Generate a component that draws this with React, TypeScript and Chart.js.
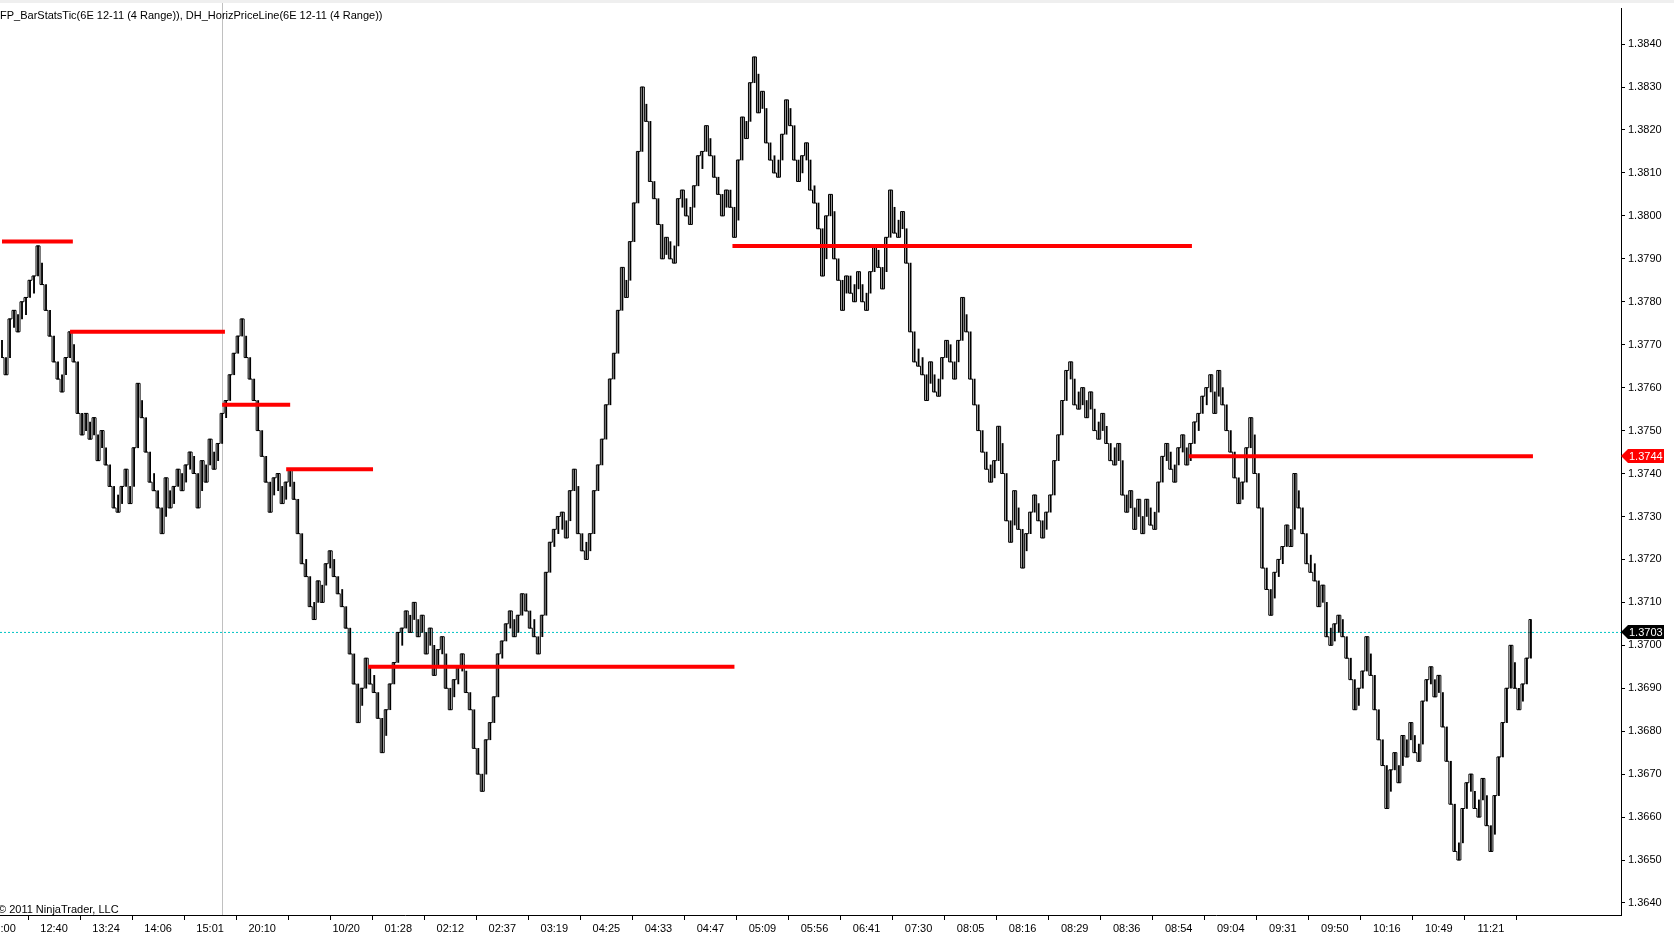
import { useEffect, useRef } from 'react'
import { Chart, registerables } from 'chart.js'

Chart.register(...registerables)

// 6E 12-11, 4 Range bars (tick 0.0001) -> every bar spans 4 ticks
const RANGE = 0.0004

// bar lows, one per bar
const lows = [
  1.3767, 1.3763, 1.3772, 1.3774, 1.3773, 1.3776, 1.3777, 1.3781, 1.3782, 1.3789, 1.3784, 1.3778, 1.3772,
  1.3766, 1.3762, 1.3759, 1.3763, 1.3769, 1.3766, 1.3754, 1.3749, 1.3750, 1.3748, 1.3749, 1.3743, 1.3746,
  1.3742, 1.3737, 1.3732, 1.3731, 1.3733, 1.3737, 1.3733, 1.3742, 1.3757, 1.3753, 1.3745, 1.3738, 1.3736,
  1.3732, 1.3726, 1.3735, 1.3732, 1.3733, 1.3737, 1.3736, 1.3738, 1.3741, 1.3740, 1.3732, 1.3739, 1.3738,
  1.3744, 1.3741, 1.3743, 1.3750, 1.3753, 1.3759, 1.3764, 1.3768, 1.3772, 1.3767, 1.3762, 1.3757, 1.3750,
  1.3744, 1.3738, 1.3731, 1.3735, 1.3736, 1.3733, 1.3734, 1.3737, 1.3734, 1.3726, 1.3719, 1.3716, 1.3709,
  1.3706, 1.3711, 1.3710, 1.3715, 1.3718, 1.3716, 1.3712, 1.3709, 1.3704, 1.3698, 1.3691, 1.3682, 1.3686,
  1.3693, 1.3691, 1.3689, 1.3683, 1.3675, 1.3681, 1.3687, 1.3692, 1.3699, 1.3700, 1.3704, 1.3703, 1.3706,
  1.3702, 1.3703, 1.3698, 1.3700, 1.3693, 1.3695, 1.3698, 1.3690, 1.3685, 1.3688, 1.3691, 1.3694, 1.3689,
  1.3685, 1.3676, 1.3670, 1.3666, 1.3674, 1.3678, 1.3684, 1.3694, 1.3697, 1.3701, 1.3704, 1.3702, 1.3703,
  1.3708, 1.3708, 1.3704, 1.3702, 1.3698, 1.3703, 1.3713, 1.3720, 1.3723, 1.3726, 1.3727, 1.3725, 1.3732,
  1.3737, 1.3726, 1.3722, 1.3720, 1.3722, 1.3732, 1.3738, 1.3744, 1.3752, 1.3758, 1.3764, 1.3774, 1.3784,
  1.3781, 1.3790, 1.3799, 1.3811, 1.3826, 1.3822, 1.3808, 1.3804, 1.3798, 1.3790, 1.3791, 1.3790, 1.3789,
  1.3800, 1.3802, 1.3800, 1.3798, 1.3803, 1.3810, 1.3811, 1.3817, 1.3814, 1.3809, 1.3805, 1.3800, 1.3802,
  1.3802, 1.3795, 1.3809, 1.3819, 1.3818, 1.3827, 1.3833, 1.3824, 1.3825, 1.3817, 1.3813, 1.3810, 1.3809,
  1.3815, 1.3823, 1.3821, 1.3813, 1.3808, 1.3810, 1.3813, 1.3806, 1.3803, 1.3797, 1.3786, 1.3796, 1.3801,
  1.3790, 1.3785, 1.3778, 1.3782, 1.3782, 1.3780, 1.3783, 1.3780, 1.3778, 1.3783, 1.3789, 1.3788, 1.3783,
  1.3791, 1.3802, 1.3796, 1.3795, 1.3797, 1.3789, 1.3773, 1.3766, 1.3765, 1.3763, 1.3757, 1.3762, 1.3759,
  1.3758, 1.3763, 1.3767, 1.3766, 1.3762, 1.3767, 1.3777, 1.3773, 1.3762, 1.3756, 1.3750, 1.3745, 1.3741,
  1.3738, 1.3739, 1.3747, 1.3740, 1.3729, 1.3724, 1.3732, 1.3727, 1.3718, 1.3722, 1.3727, 1.3731, 1.3729,
  1.3725, 1.3727, 1.3731, 1.3739, 1.3745, 1.3753, 1.3760, 1.3762, 1.3756, 1.3755, 1.3756, 1.3753, 1.3755,
  1.3750, 1.3748, 1.3750, 1.3747, 1.3743, 1.3742, 1.3743, 1.3735, 1.3731, 1.3732, 1.3727, 1.3730, 1.3726,
  1.3730, 1.3728, 1.3727, 1.3734, 1.3740, 1.3743, 1.3741, 1.3738, 1.3742, 1.3745, 1.3742, 1.3743, 1.3748,
  1.3750, 1.3754, 1.3756, 1.3759, 1.3754, 1.3760, 1.3756, 1.3750, 1.3745, 1.3739, 1.3733, 1.3734, 1.3742,
  1.3749, 1.3740, 1.3732, 1.3718, 1.3713, 1.3707, 1.3713, 1.3716, 1.3719, 1.3724, 1.3723, 1.3736, 1.3732,
  1.3726, 1.3719, 1.3717, 1.3715, 1.3709, 1.3710, 1.3702, 1.3700, 1.3701, 1.3703, 1.3702, 1.3697, 1.3692,
  1.3685, 1.3686, 1.3690, 1.3698, 1.3693, 1.3685, 1.3678, 1.3672, 1.3662, 1.3667, 1.3671, 1.3668, 1.3675,
  1.3674, 1.3678, 1.3675, 1.3673, 1.3683, 1.3688, 1.3691, 1.3688, 1.3689, 1.3681, 1.3673, 1.3663, 1.3652,
  1.3650, 1.3658, 1.3664, 1.3666, 1.3662, 1.3660, 1.3665, 1.3658, 1.3652, 1.3661, 1.3670, 1.3678, 1.3686,
  1.3696, 1.3690, 1.3685, 1.3687, 1.3693, 1.3702,
]

// time axis: bar slot of each tick, and its label
const tickBars = [0, 13, 26, 39, 52, 65, 78, 86, 99, 112, 125, 138, 151, 164, 177, 190, 203, 216, 229, 242, 255, 268, 281, 294, 307, 320, 333, 346, 359, 372]
const tickLabels = ['12:00', '12:40', '13:24', '14:06', '15:01', '20:10', '', '10/20', '01:28', '02:12', '02:37', '03:19', '04:25', '04:33', '04:47', '05:09', '05:56', '06:41', '07:30', '08:05', '08:16', '08:29', '08:36', '08:54', '09:04', '09:31', '09:50', '10:16', '10:49', '11:21']

const priceTicks = [1.3640, 1.3650, 1.3660, 1.3670, 1.3680, 1.3690, 1.3700, 1.3710, 1.3720, 1.3730, 1.3740, 1.3750, 1.3760, 1.3770, 1.3780, 1.3790, 1.3800, 1.3810, 1.3820, 1.3830, 1.3840]

// DH_HorizPriceLine levels: price, first bar, last bar
const levelPrices = [1.3794, 1.3773, 1.3756, 1.3741, 1.3695, 1.3793, 1.3744]
const levelFrom = [0, 17, 55, 71, 91.5, 182.5, 296.5]
const levelTo = [17.7, 55.7, 72, 92.7, 183, 297.3, 382.5]

const lastPrice = 1.3703
const lastLevel = 1.3744
const sessionBreakBar = 55
const slots = 405

const FONT = '"Liberation Sans", Arial, sans-serif'

const overlays = {
  id: 'ntOverlays',
  beforeDatasetsDraw(chart: any) {
    const { ctx, chartArea, scales } = chart
    const x = Math.round(scales.x.getPixelForValue(sessionBreakBar)) + 0.5
    ctx.save()
    ctx.strokeStyle = '#c0c0c0'
    ctx.lineWidth = 1
    ctx.beginPath()
    ctx.moveTo(x, 3)
    ctx.lineTo(x, chartArea.bottom)
    ctx.stroke()
    ctx.restore()
  },
  afterDraw(chart: any) {
    const { ctx, chartArea, scales } = chart
    const marker = (price: number, bg: string) => {
      const y = Math.round(scales.y.getPixelForValue(price))
      const x0 = chartArea.right
      ctx.save()
      ctx.fillStyle = bg
      ctx.beginPath()
      ctx.moveTo(x0, y)
      ctx.lineTo(x0 + 7, y - 7)
      ctx.lineTo(x0 + 43, y - 7)
      ctx.lineTo(x0 + 43, y + 7)
      ctx.lineTo(x0 + 7, y + 7)
      ctx.closePath()
      ctx.fill()
      ctx.fillStyle = '#fff'
      ctx.font = '11px ' + FONT
      ctx.textBaseline = 'middle'
      ctx.fillText(price.toFixed(4), x0 + 8, y + 1)
      ctx.restore()
    }
    marker(lastLevel, '#ff0000')
    marker(lastPrice, '#000000')
  },
}

export default function App() {
  const ref = useRef<HTMLCanvasElement>(null)

  useEffect(() => {
    document.body.style.margin = '0'
    if (!ref.current) return

    // high/low of each bar, stretched to touch the previous bar so the path stays connected
    const bars = lows.map((lo, i) => {
      let a = lo
      let b = lo + RANGE
      if (i > 0) {
        const prev = lows[i - 1]
        if (prev + RANGE < a) a = prev + RANGE
        if (prev > b) b = prev
      }
      return { x: i, y: [a, b] }
    })
    // close sits on the high of an up bar, on the low of a down bar
    const closes = lows.map((lo, i) => ({ x: i, y: i > 0 && lo > lows[i - 1] ? lo + RANGE : lo }))

    const levels = levelPrices.map((p, k) => ({
      type: 'line' as const,
      data: [{ x: levelFrom[k], y: p }, { x: levelTo[k], y: p }],
      borderColor: '#ff0000',
      borderWidth: 4,
      borderCapStyle: 'butt' as const,
      pointRadius: 0,
      order: 0,
    }))

    const chart = new Chart(ref.current, {
      type: 'bar',
      data: {
        datasets: [
          ...levels,
          {
            type: 'bar',
            data: bars as any,
            backgroundColor: '#000',
            barThickness: 1.2,
            order: 1,
          },
          {
            type: 'line',
            data: closes,
            borderColor: '#000',
            borderWidth: 1,
            stepped: 'middle',
            pointRadius: 0,
            order: 1,
          },
          {
            type: 'line',
            data: [{ x: -0.5, y: lastPrice }, { x: slots - 0.5, y: lastPrice }],
            borderColor: '#00c4c4',
            borderWidth: 1,
            borderDash: [2, 2],
            pointRadius: 0,
            order: 2,
          },
        ] as any,
      },
      options: {
        responsive: false,
        animation: false,
        layout: { padding: { top: 8, left: 0, right: 0, bottom: 0 } },
        plugins: { legend: { display: false }, tooltip: { enabled: false }, title: { display: false } },
        scales: {
          x: {
            type: 'linear',
            min: -0.5,
            max: slots - 0.5,
            offset: false,
            afterBuildTicks: (s: any) => { s.ticks = tickBars.map(v => ({ value: v })) },
            afterFit: (s: any) => { s.height = 26; s.paddingLeft = 0; s.paddingRight = 0 },
            ticks: {
              autoSkip: false,
              maxRotation: 0,
              minRotation: 0,
              padding: 2,
              color: '#000',
              font: { family: FONT, size: 11 },
              callback: (_v: any, i: number) => tickLabels[i],
            },
            grid: { drawOnChartArea: false, drawTicks: true, tickLength: 5, color: '#000' },
            border: { display: true, color: '#000', width: 1 },
          },
          y: {
            type: 'linear',
            position: 'right',
            min: 1.36372,
            max: 1.38484,
            afterBuildTicks: (s: any) => { s.ticks = priceTicks.map(v => ({ value: v })) },
            afterFit: (s: any) => { s.width = 53; s.paddingTop = 0; s.paddingBottom = 0 },
            ticks: {
              autoSkip: false,
              padding: 3,
              color: '#000',
              font: { family: FONT, size: 11 },
              callback: (v: any) => Number(v).toFixed(4),
            },
            grid: { drawOnChartArea: false, drawTicks: true, tickLength: 4, color: '#000' },
            border: { display: true, color: '#000', width: 1 },
          },
        },
      },
      plugins: [overlays],
    })

    return () => chart.destroy()
  }, [])

  return (
    <div style={{ position: 'relative', width: 1674, height: 941, background: '#fff', overflow: 'hidden', fontFamily: FONT }}>
      <canvas ref={ref} width={1674} height={941} style={{ display: 'block', width: 1674, height: 941 }} />
      <div style={{ position: 'absolute', left: 0, top: 0, width: '100%', height: 3, background: '#efefef' }} />
      <div style={{ position: 'absolute', left: 0, top: 8, fontSize: 11, lineHeight: '14px', color: '#000', whiteSpace: 'nowrap' }}>
        FP_BarStatsTic(6E 12-11 (4 Range)), DH_HorizPriceLine(6E 12-11 (4 Range))
      </div>
      <div style={{ position: 'absolute', left: -2, top: 902, fontSize: 11, lineHeight: '14px', color: '#000', whiteSpace: 'nowrap' }}>
        © 2011 NinjaTrader, LLC
      </div>
    </div>
  )
}
